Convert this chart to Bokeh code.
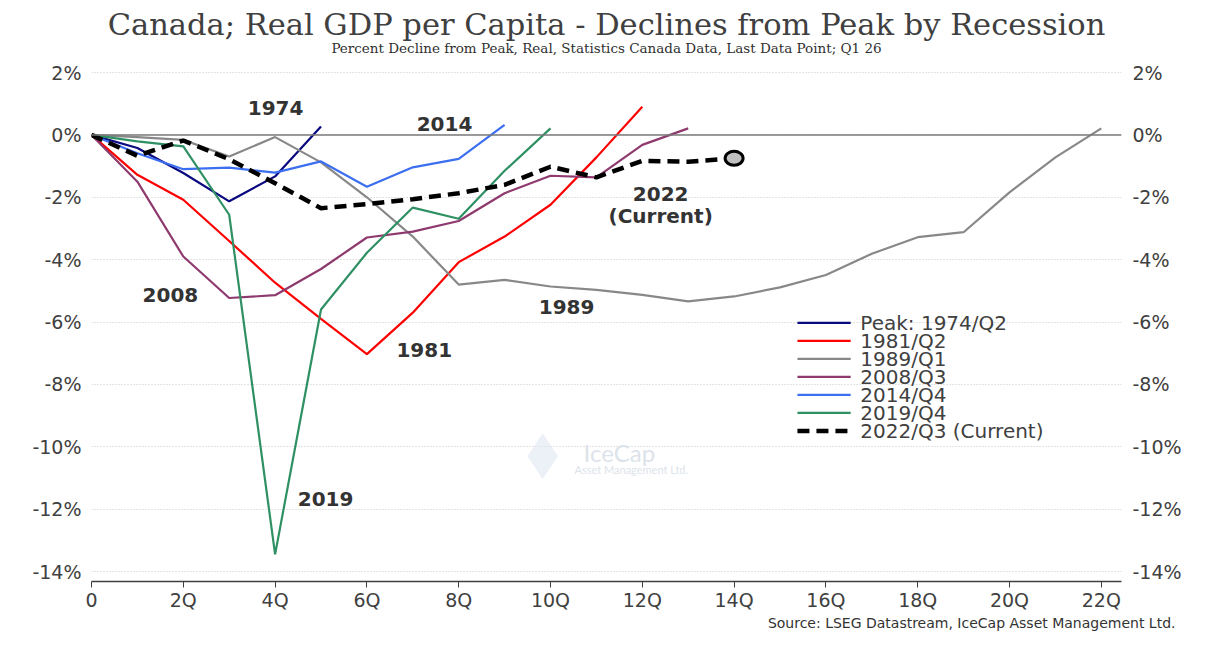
from bokeh.plotting import figure
from bokeh.models import (ColumnDataSource, FixedTicker, LinearAxis, Title, Span, Range1d)
from bokeh.core.properties import value
from bokeh.embed import file_html
from bokeh.resources import INLINE

# ---------------- data (percent decline from peak, by quarter after peak) ----------------
q_1974 = [0, 1, 2, 3, 4, 5]
v_1974 = [0, -0.42, -1.22, -2.13, -1.33, 0.27]

q_1981 = list(range(13))
v_1981 = [0, -1.28, -2.08, -3.40, -4.74, -5.90, -7.03, -5.70, -4.08, -3.26, -2.24, -0.72, 0.90]

q_1989 = list(range(23))
v_1989 = [0, -0.07, -0.16, -0.69, -0.07, -0.88, -2.00, -3.26, -4.80, -4.65, -4.86, -4.97,
          -5.13, -5.34, -5.18, -4.89, -4.49, -3.81, -3.28, -3.12, -1.84, -0.72, 0.21]

q_2008 = list(range(14))
v_2008 = [0, -1.50, -3.90, -5.23, -5.14, -4.30, -3.29, -3.10, -2.76, -1.87, -1.31, -1.36, -0.32, 0.21]

q_2014 = list(range(10))
v_2014 = [0, -0.59, -1.10, -1.05, -1.21, -0.85, -1.66, -1.04, -0.77, 0.32]

q_2019 = list(range(11))
v_2019 = [0, -0.21, -0.37, -2.56, -13.45, -5.60, -3.78, -2.33, -2.69, -1.15, 0.21]

q_2022 = list(range(15))
v_2022 = [0, -0.67, -0.18, -0.78, -1.55, -2.35, -2.22, -2.06, -1.87, -1.60, -1.02, -1.36, -0.83, -0.86, -0.75]

series_names = ["Peak: 1974/Q2", "1981/Q2", "1989/Q1", "2008/Q3", "2014/Q4", "2019/Q4", "2022/Q3 (Current)"]
series_colors = ["#0a0a80", "#ff0000", "#888888", "#8e3a6e", "#3c6ff0", "#2e9063", "#000000"]

y_ticks = [2, 0, -2, -4, -6, -8, -10, -12, -14]
y_tick_labels = ["2%", "0%", "-2%", "-4%", "-6%", "-8%", "-10%", "-12%", "-14%"]
x_ticks = [0, 2, 4, 6, 8, 10, 12, 14, 16, 18, 20, 22]
x_tick_labels = ["0", "2Q", "4Q", "6Q", "8Q", "10Q", "12Q", "14Q", "16Q", "18Q", "20Q", "22Q"]

ann_text = ["1974", "2014", "2008", "1981", "1989", "2022", "(Current)", "2019"]
ann_x = [4.01, 7.69, 1.72, 7.25, 10.35, 12.4, 12.4, 5.1]
ann_y = [0.87, 0.35, -5.13, -6.89, -5.51, -1.89, -2.60, -11.67]

title_text = "Canada; Real GDP per Capita - Declines from Peak by Recession"
subtitle_text = "Percent Decline from Peak, Real, Statistics Canada Data, Last Data Point; Q1 26"
source_text = "Source: LSEG Datastream, IceCap Asset Management Ltd."

# ---------------- figure ----------------
# the frame reaches the top of the canvas so the headings can sit in it above the 2% line
X0, X1 = 0, 22.44
Y0, Y1 = -14.32, 4.31
p = figure(width=1204, height=642, x_range=Range1d(X0, X1), y_range=Range1d(Y0, Y1),
           output_backend="svg", toolbar_location=None,
           min_border_left=91, min_border_right=83, min_border_top=0, min_border_bottom=61,
           outline_line_color=None, background_fill_color="white")

TICK_FONT = "DejaVu Sans"
GRAY_TXT = "#404040"

# x axis
xa = p.xaxis[0]
xa.ticker = FixedTicker(ticks=x_ticks)
xa.major_label_overrides = {t: l for t, l in zip(x_ticks, x_tick_labels)}
xa.axis_line_color = "#404040"
xa.axis_line_width = 1.5
xa.major_tick_line_color = "#404040"
xa.major_tick_out = 6
xa.major_tick_in = 0
xa.minor_tick_line_color = None
xa.major_label_text_font = TICK_FONT
xa.major_label_text_font_size = "19px"
xa.major_label_text_color = GRAY_TXT
xa.major_label_standoff = 1

# left y axis
ya = p.yaxis[0]
ya.ticker = FixedTicker(ticks=y_ticks)
ya.major_label_overrides = {t: l for t, l in zip(y_ticks, y_tick_labels)}
ya.axis_line_color = None
ya.major_tick_line_color = None
ya.minor_tick_line_color = None
ya.major_label_text_font = TICK_FONT
ya.major_label_text_font_size = "19px"
ya.major_label_text_color = GRAY_TXT
ya.major_label_standoff = 4

# right y axis
ra = LinearAxis(ticker=FixedTicker(ticks=y_ticks))
ra.major_label_overrides = {t: l for t, l in zip(y_ticks, y_tick_labels)}
ra.axis_line_color = None
ra.major_tick_line_color = None
ra.minor_tick_line_color = None
ra.major_label_text_font = TICK_FONT
ra.major_label_text_font_size = "19px"
ra.major_label_text_color = GRAY_TXT
ra.major_label_standoff = 5
p.add_layout(ra, "right")

# grid
p.xgrid.grid_line_color = None
p.ygrid.ticker = FixedTicker(ticks=y_ticks)
p.ygrid.grid_line_color = "#c8c8c8"
p.ygrid.grid_line_dash = "1 2"
p.ygrid.grid_line_width = 1

p.add_layout(Span(location=0, dimension="width", line_color="#7a7a7a", line_width=1.5))

# headings
x_mid = (X0 + X1) / 2
p.text(x=[x_mid], y=[3.54], text=[title_text], text_font=value("DejaVu Serif"),
       text_font_size="30.5px", text_color="#404040", text_align="center", text_baseline="middle")
p.text(x=[x_mid], y=[2.80], text=[subtitle_text], text_font=value("DejaVu Serif"),
       text_font_size="13.5px", text_color="#303030", text_align="center", text_baseline="middle")

# watermark
p.scatter(x=[9.83], y=[-10.3], marker="diamond", size=46, fill_color="#dfe8f2",
          line_color=None, fill_alpha=0.6)
p.text(x=[11.5], y=[-10.19], text=["IceCap"], text_font=value("Lato"), text_font_size="24px",
       text_color="#dde3ea", text_align="center", text_baseline="middle")
p.text(x=[11.76], y=[-10.74], text=["Asset Management Ltd."], text_font=value("Lato"),
       text_font_size="11px", text_color="#dde3ea", text_align="center", text_baseline="middle")

# series
qs = [q_1974, q_1981, q_1989, q_2008, q_2014, q_2019, q_2022]
vs = [v_1974, v_1981, v_1989, v_2008, v_2014, v_2019, v_2022]
for i, (q, v, col) in enumerate(zip(qs, vs, series_colors)):
    src = ColumnDataSource(dict(x=q, y=v))
    if i == 6:
        p.line("x", "y", source=src, line_color=col, line_width=4.5, line_dash="12 7")
    else:
        p.line("x", "y", source=src, line_color=col, line_width=2.2)

# current end-point marker
p.ellipse(x=[q_2022[-1]], y=[v_2022[-1]], width=18, height=14, width_units="screen",
          height_units="screen", fill_color="#c0c0c0", line_color="#000000", line_width=3)

# annotations
p.text(x=ann_x, y=ann_y, text=ann_text, text_font=value("DejaVu Sans"), text_font_style="bold",
       text_font_size="20px", text_color="#333333", text_align="center", text_baseline="middle")

# legend (drawn manually to keep the tight row spacing of the original)
px_per_pct = 31.2
leg_x0, leg_x1, leg_tx = 15.38, 16.54, 16.75
leg_y0 = -6.03
leg_step = 18.0 / px_per_pct
for i, (name, col) in enumerate(zip(series_names, series_colors)):
    yy = leg_y0 - i * leg_step
    if i == 6:
        p.line([leg_x0, leg_x1], [yy, yy], line_color=col, line_width=4.5, line_dash="12 7")
    else:
        p.line([leg_x0, leg_x1], [yy, yy], line_color=col, line_width=2.2)
    p.text(x=[leg_tx], y=[yy], text=[name], text_font=value("DejaVu Sans"),
           text_font_size="20px", text_color="#404040", text_align="left", text_baseline="middle")

src_title = Title(text=source_text, align="right", text_font="DejaVu Sans", text_font_size="14px",
                  text_font_style="normal", text_color="#333333", offset=-54, standoff=-1)
p.add_layout(src_title, "below")

open("out.html", "w").write(file_html(p, INLINE))
